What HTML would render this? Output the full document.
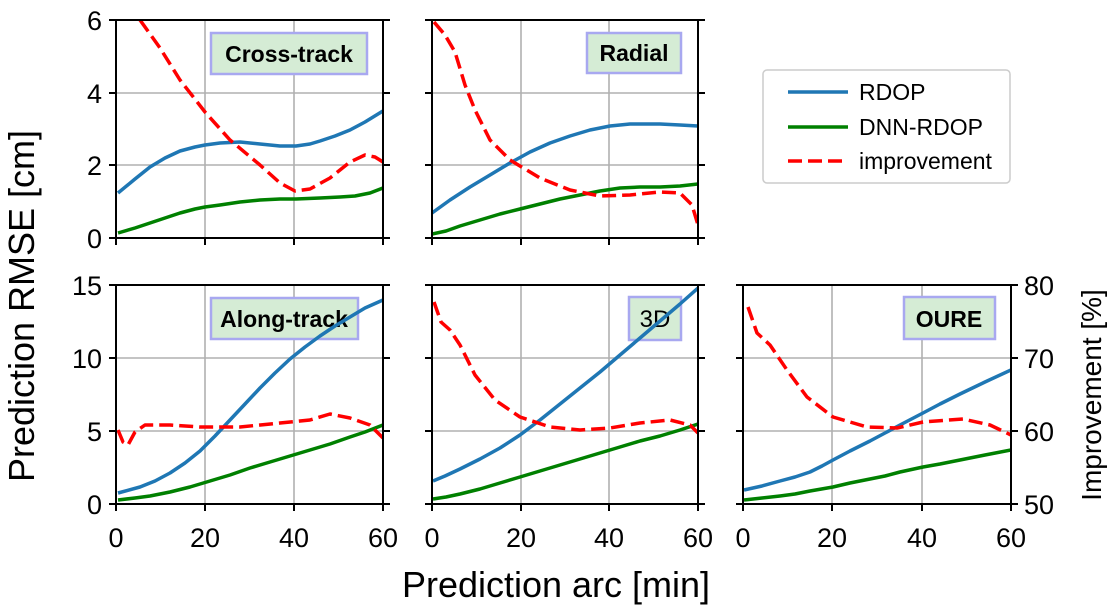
<!DOCTYPE html>
<html><head><meta charset="utf-8"><style>
body{margin:0;background:#fff}
svg{display:block;font-family:"Liberation Sans",Arial,sans-serif}
.g{stroke:#b0b0b0;stroke-width:1.6}
.ax{fill:none;stroke:#000;stroke-width:2}
.b{fill:none;stroke:#1f77b4;stroke-width:3.5;stroke-linejoin:round}
.gr{fill:none;stroke:#008000;stroke-width:3.5;stroke-linejoin:round}
.r{fill:none;stroke:#ff0000;stroke-width:3.5;stroke-dasharray:14,6;stroke-linejoin:round}
.t{font-size:27px}
.lb{fill:#d5ecd5;stroke:#a8a8f0;stroke-width:2.5}
.lt{font-size:23px;font-weight:bold}
</style></head><body>
<svg width="1116" height="614" viewBox="0 0 1116 614">
<defs>
<clipPath id="c1"><rect x="116" y="20" width="267" height="218"/></clipPath>
<clipPath id="c2"><rect x="432" y="20" width="266" height="218"/></clipPath>
<clipPath id="c3"><rect x="116" y="285" width="267" height="219"/></clipPath>
<clipPath id="c4"><rect x="432" y="285" width="266" height="219"/></clipPath>
<clipPath id="c5"><rect x="743" y="285" width="268" height="219"/></clipPath>
</defs>
<g class="g">
<line x1="205" y1="20" x2="205" y2="238"/><line x1="294" y1="20" x2="294" y2="238"/>
<line x1="116" y1="93" x2="383" y2="93"/><line x1="116" y1="165" x2="383" y2="165"/>
<line x1="521" y1="20" x2="521" y2="238"/><line x1="609" y1="20" x2="609" y2="238"/>
<line x1="432" y1="93" x2="698" y2="93"/><line x1="432" y1="165" x2="698" y2="165"/>
<line x1="205" y1="285" x2="205" y2="504"/><line x1="294" y1="285" x2="294" y2="504"/>
<line x1="116" y1="358" x2="383" y2="358"/><line x1="116" y1="431" x2="383" y2="431"/>
<line x1="521" y1="285" x2="521" y2="504"/><line x1="609" y1="285" x2="609" y2="504"/>
<line x1="432" y1="358" x2="698" y2="358"/><line x1="432" y1="431" x2="698" y2="431"/>
<line x1="832" y1="285" x2="832" y2="504"/><line x1="922" y1="285" x2="922" y2="504"/>
<line x1="743" y1="358" x2="1011" y2="358"/><line x1="743" y1="431" x2="1011" y2="431"/>
</g>
<rect class="lb" x="211" y="33" width="156" height="41"/><text class="lt" x="289" y="62" text-anchor="middle">Cross-track</text>
<rect class="lb" x="587" y="33" width="94" height="40"/><text class="lt" x="634" y="61" text-anchor="middle">Radial</text>
<rect class="lb" x="211" y="298" width="147" height="41"/><text class="lt" x="284" y="327" text-anchor="middle">Along-track</text>
<rect class="lb" x="629" y="297" width="52" height="43"/><text x="655" y="327" font-size="24" text-anchor="middle">3D</text>
<rect class="lb" x="904" y="297" width="91" height="42"/><text class="lt" x="949" y="327" text-anchor="middle">OURE</text>
<g clip-path="url(#c1)">
<polyline class="b" points="118,193 135,179 150,167 165,158 180,151 195,147 205,145 220,143 240,142 260,144 280,146 296,146 310,144 320,141 335,136 350,130 365,122 383,111"/>
<polyline class="gr" points="118,233 135,228 150,223 165,218 180,213 195,209 205,207 220,205 240,202 260,200 280,199 296,199 320,198 340,197 355,196 370,193 383,188"/>
<polyline class="r" points="140,20 160,48 180,80 205,112 230,140 260,165 280,183 295,191 310,189 330,178 350,162 365,155 375,157 383,162"/>
</g>
<g clip-path="url(#c2)">
<polyline class="b" points="432,213 450,200 470,187 490,175 510,163 530,152 550,143 570,136 590,130 610,126 630,124 660,124 680,125 698,126"/>
<polyline class="gr" points="432,234 446,231 460,226 480,220 500,214 520,209 540,204 560,199 580,195 600,191 620,188 640,187 660,187 680,186 698,184"/>
<polyline class="r" points="434,22 445,35 455,52 465,85 475,110 490,140 510,160 540,178 570,190 600,196 630,195 660,192 680,193 692,205 698,225"/>
</g>
<g clip-path="url(#c3)">
<polyline class="b" points="118,493 140,487 155,481 170,473 185,463 200,451 215,436 230,420 245,404 260,388 275,373 290,359 305,347 320,336 335,326 350,317 365,308 383,300"/>
<polyline class="gr" points="118,500 135,498 150,496 170,492 190,487 210,481 230,475 250,468 270,462 290,456 310,450 330,444 350,437 365,432 383,425"/>
<polyline class="r" points="118,430 123,442 128,445 135,432 145,425 170,425 200,427 240,427 280,423 310,420 330,414 350,418 370,425 383,438"/>
</g>
<g clip-path="url(#c4)">
<polyline class="b" points="433,481 445,476 460,469 480,459 500,448 520,435 540,420 560,404 580,388 600,372 620,355 640,338 660,321 680,304 698,288"/>
<polyline class="gr" points="433,499 446,497 460,494 480,489 500,483 520,477 540,471 560,465 580,459 600,453 620,447 640,441 660,436 680,430 698,424"/>
<polyline class="r" points="434,302 441,322 450,330 460,345 475,375 495,400 520,417 550,427 580,430 610,428 640,423 670,420 690,425 698,433"/>
</g>
<g clip-path="url(#c5)">
<polyline class="b" points="744,490 762,486 780,481 795,477 810,472 822,466 833,460 850,451 870,441 885,433 900,425 923,413 940,404 960,394 985,382 1011,370"/>
<polyline class="gr" points="744,500 762,498 780,496 795,494 810,491 833,487 850,483 870,479 885,476 900,472 923,467 940,464 960,460 985,455 1011,450"/>
<polyline class="r" points="748,307 757,333 770,345 787,370 807,397 833,417 867,427 897,428 923,422 963,419 990,425 1011,435"/>
</g>
<rect class="ax" x="116" y="20" width="267" height="218"/>
<rect class="ax" x="432" y="20" width="266" height="218"/>
<rect class="ax" x="116" y="285" width="267" height="219"/>
<rect class="ax" x="432" y="285" width="266" height="219"/>
<rect class="ax" x="743" y="285" width="268" height="219"/>
<g stroke="#000" stroke-width="2">
<path d="M109,20H116M109,93H116M109,165H116M109,238H116"/>
<path d="M383,20H390M383,93H390M383,165H390M383,238H390"/>
<path d="M425,20H432M425,93H432M425,165H432M425,238H432"/>
<path d="M698,20H705M698,93H705M698,165H705M698,238H705"/>
<path d="M116,238V245M205,238V245M294,238V245M383,238V245M432,238V245M521,238V245M609,238V245M698,238V245"/>
<path d="M109,285H116M109,358H116M109,431H116M109,504H116"/>
<path d="M383,285H390M383,358H390M383,431H390M383,504H390"/>
<path d="M425,285H432M425,358H432M425,431H432M425,504H432"/>
<path d="M698,285H705M698,358H705M698,431H705M698,504H705"/>
<path d="M736,285H743M736,358H743M736,431H743M736,504H743"/>
<path d="M1011,285H1018M1011,358H1018M1011,431H1018M1011,504H1018"/>
<path d="M116,504V511M205,504V511M294,504V511M383,504V511M432,504V511M521,504V511M609,504V511M698,504V511M743,504V511M832,504V511M922,504V511M1011,504V511"/>
</g>
<g class="t" text-anchor="end">
<text x="102" y="30">6</text><text x="102" y="103">4</text><text x="102" y="175">2</text><text x="102" y="248">0</text>
<text x="102" y="295">15</text><text x="102" y="368">10</text><text x="102" y="441">5</text><text x="102" y="514">0</text>
</g>
<g class="t">
<text x="1024" y="295">80</text><text x="1024" y="368">70</text><text x="1024" y="441">60</text><text x="1024" y="514">50</text>
</g>
<g class="t" text-anchor="middle">
<text x="116" y="547">0</text><text x="205" y="547">20</text><text x="294" y="547">40</text><text x="383" y="547">60</text>
<text x="432" y="547">0</text><text x="521" y="547">20</text><text x="609" y="547">40</text><text x="698" y="547">60</text>
<text x="743" y="547">0</text><text x="832" y="547">20</text><text x="922" y="547">40</text><text x="1011" y="547">60</text>
</g>
<text x="556" y="597" text-anchor="middle" font-size="36">Prediction arc [min]</text>
<text transform="translate(34,306) rotate(-90)" text-anchor="middle" font-size="36">Prediction RMSE [cm]</text>
<text transform="translate(1101,395) rotate(-90)" text-anchor="middle" font-size="28">Improvement [%]</text>
<rect x="763" y="70" width="247" height="113" rx="4" fill="#fff" stroke="#ccc" stroke-width="1.5"/>
<line x1="788" y1="92" x2="848" y2="92" class="b"/><text x="859" y="100" font-size="23">RDOP</text>
<line x1="788" y1="127" x2="848" y2="127" class="gr"/><text x="859" y="135" font-size="23">DNN-RDOP</text>
<line x1="788" y1="161" x2="848" y2="161" class="r"/><text x="859" y="169" font-size="23">improvement</text>
</svg>
</body></html>
